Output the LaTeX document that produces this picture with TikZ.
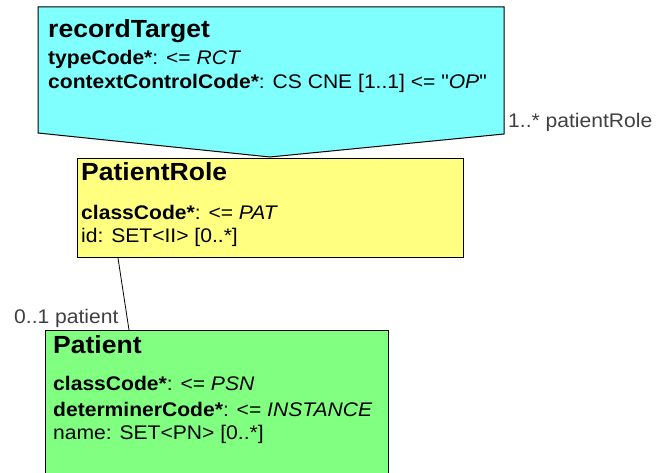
\documentclass[tikz,border=0pt]{standalone}
\usepackage{fontspec}
\usetikzlibrary{calc}
\setmainfont{Liberation Sans}
\newfontfamily\bodyf{Liberation Sans}[FakeStretch=1.07]
\newfontfamily\titlef{Liberation Sans}[FakeStretch=1.07]
\definecolor{rtcyan}{HTML}{80FFFF}
\definecolor{pryellow}{HTML}{FFFF80}
\definecolor{ptgreen}{HTML}{80FF80}
\definecolor{lblgray}{HTML}{404040}
\begin{document}
\begin{tikzpicture}[x=1pt,y=-1pt,
  boxline/.style={draw=black,line width=1pt},
  title/.style={anchor=base west,inner sep=0pt,font=\titlef\bfseries\fontsize{24.8}{28}\selectfont},
  body/.style={anchor=base west,inner sep=0pt,font=\bodyf\fontsize{19.7}{23}\selectfont},
  lbl/.style={anchor=base west,inner sep=0pt,text=lblgray,font=\bodyf\fontsize{19.7}{23}\selectfont},
  conn/.style={draw=black,line width=0.8pt}]
\useasboundingbox (0,0) rectangle (657,473);
\clip (0,0) rectangle (657,473);
% recordTarget
\draw[boxline,fill=rtcyan] (38,7) -- (504,7) -- (504,134) -- (270,157) -- (38,133) -- cycle;
\node[title] (rtT) at (48,37.5) {recordTarget};
\node[body] (rt1) at (48,65) {\textbf{typeCode*}: <= \textit{RCT}};
\node[body] (rt2) at (48,88.5) {\textbf{contextControlCode*}: CS CNE [1..1] <= "\textit{OP}"};
\node[lbl] (l1) at (508,128) {1..* patientRole};
% PatientRole
\node[boxline,fill=pryellow,minimum width=386pt,minimum height=99pt,anchor=north west,inner sep=0pt] (pr) at (77,158) {};
\node[title] (prT) at (81,181) {PatientRole};
\node[body] (pr1) at (81,219.5) {\textbf{classCode*}: <= \textit{PAT}};
\node[body] (pr2) at (81,242.5) {id: SET<II> [0..*]};
% Patient
\node[boxline,fill=ptgreen,minimum width=343pt,minimum height=160pt,anchor=north west,inner sep=0pt] (pt) at (45,330) {};
\node[title] (ptT) at (53,354) {Patient};
\node[body] (pt1) at (53,391) {\textbf{classCode*}: <= \textit{PSN}};
\node[body] (pt2) at (53,416.5) {\textbf{determinerCode*}: <= \textit{INSTANCE}};
\node[body] (pt3) at (53,440) {name: SET<PN> [0..*]};
\node[lbl] (l2) at (14,324) {0..1 patient};
% connector
\coordinate (cA) at ($(pr.south west)+(41,0)$);
\coordinate (cB) at ($(pt.north west)+(84,0)$);
\draw[conn] (cA) -- (cB);
\end{tikzpicture}
\end{document}
